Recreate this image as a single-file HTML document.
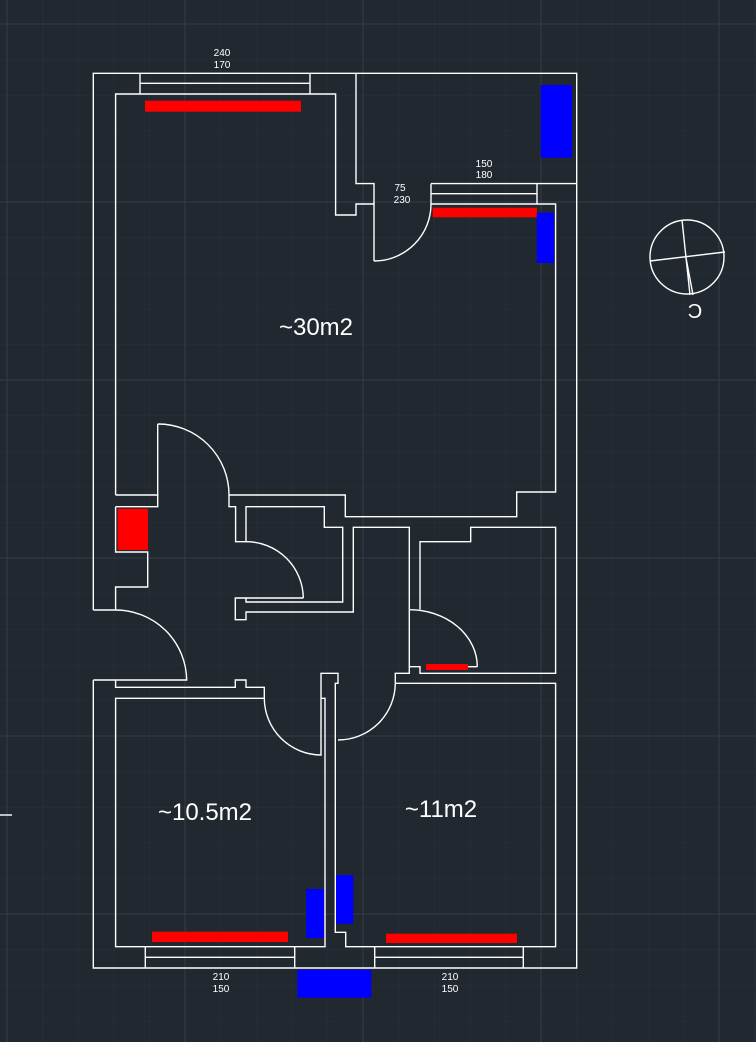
<!DOCTYPE html>
<html><head><meta charset="utf-8"><style>
html,body{margin:0;padding:0;background:#212830;width:756px;height:1042px;overflow:hidden}
svg{display:block}
text{font-family:"Liberation Sans",sans-serif;fill:#fff}
</style></head><body>
<svg width="756" height="1042" viewBox="0 0 756 1042" xmlns="http://www.w3.org/2000/svg">
<defs>
<pattern id="g" x="7" y="24" width="35.6" height="35.6" patternUnits="userSpaceOnUse">
<path d="M0 0V35.6M0 0H35.6" stroke="#2a313b" stroke-width="1" fill="none"/>
</pattern>
</defs>
<rect width="756" height="1042" fill="#212830"/>
<rect width="756" height="1042" fill="url(#g)"/>
<g stroke="#343c49" stroke-width="1">
<path d="M185 0V1042M363 0V1042M541 0V1042M719 0V1042M7 0V1042"/>
<path d="M0 202H756M0 380H756M0 558H756M0 736H756M0 914H756M0 24H756"/>
</g>

<g fill="#ff0000">
<rect x="145" y="100.7" width="156" height="11"/>
<rect x="432.7" y="207.7" width="104.3" height="9.6"/>
<rect x="117.7" y="508.7" width="30.3" height="41.3"/>
<rect x="426" y="664" width="42" height="6"/>
<rect x="152" y="931.7" width="136" height="10.3"/>
<rect x="386" y="933.7" width="131" height="9.3"/>
</g>
<g fill="#0000ff">
<rect x="540.7" y="85" width="31.3" height="72.7"/>
<rect x="536.7" y="212.7" width="17.3" height="50.3"/>
<rect x="306" y="889" width="18" height="49"/>
<rect x="335" y="875" width="18.3" height="48.7"/>
<rect x="297.3" y="969.7" width="74" height="28"/>
</g>

<g stroke="#fff" stroke-width="1.4" fill="none">
<path d="M93.3 610V73.3H576.7V968H93.3V680"/>
<path d="M140 73.3V94M310 73.3V94M140 83.3H310"/>
<path d="M115.6 495V94H335.6V215H356V204H374V261"/>
<path d="M356 73.3V183.6H374V204"/>
<path d="M374 261A57 57 0 0 0 431 204"/>
<path d="M431 183.6H576.7M431 183.6V204H555.6V492H516.7V516.7H345.3V495H229"/>
<path d="M537 183.6V204M431 193.7H537"/>
<path d="M115.6 495H157.7V424"/>
<path d="M157.7 424A71 71 0 0 1 229 495"/>
<path d="M115.6 506.7H157.7V495"/>
<path d="M115.6 506.7V552H147.7V587H115.6V610H93.3"/>
<path d="M115.6 610A71 71 0 0 1 186.7 680H93.3"/>
<path d="M115.6 680V687.3H235.3V680H246V687.3H264.3V698.3H115.6V946.7H325V698.3H321"/>
<path d="M264.3 698.3A57 57 0 0 0 321 755V673.3H338V683.3H335.3V932.3H345.7V946.7H555.6V683.3H395.3"/>
<path d="M395.3 683.3A57 57 0 0 1 338 740"/>
<path d="M395.3 683.3V673.3H409.3V666.7H420V673.3H555.6V527.3H470.7V541.7H420V609.7"/>
<path d="M468 666.7H477.3"/>
<path d="M409.3 609.7A68 57 0 0 1 477.3 666.7"/>
<path d="M409.3 666.7V609.7M409.3 609.7V527.3H353.3V612H246V619.7H235.3V598H246"/>
<path d="M229 495V506.7H235.6V541.7H246V506.7H324.3V527.3H342.7V602H246V598H303.3"/>
<path d="M246 541.7A57 57 0 0 1 303.3 598"/>
<path d="M145.3 946.7V968M294.7 946.7V968M145.3 957.3H294.7"/>
<path d="M374.7 946.7V968M523.3 946.7V968M374.7 957.3H523.3"/>
<circle cx="687" cy="257" r="37"/>
<path d="M682 220L690 295M650 261L725 252M686 258L693 295"/>
<path d="M0 815H12"/>
</g>

<g font-size="10" text-anchor="middle">
<text x="222" y="56">240</text><text x="222" y="68">170</text>
<text x="400" y="191">75</text><text x="402" y="203">230</text>
<text x="484" y="167">150</text><text x="484" y="178">180</text>
<text x="221" y="980">210</text><text x="221" y="992">150</text>
<text x="450" y="980">210</text><text x="450" y="992">150</text>
</g>
<g font-size="24" text-anchor="middle">
<text x="316" y="335">~30m2</text>
<text x="205" y="820">~10.5m2</text>
<text x="441" y="817">~11m2</text>
</g>
<text x="0" y="0" font-size="20" text-anchor="middle" transform="translate(695,318) scale(-1,1)">C</text>
</svg>
</body></html>
